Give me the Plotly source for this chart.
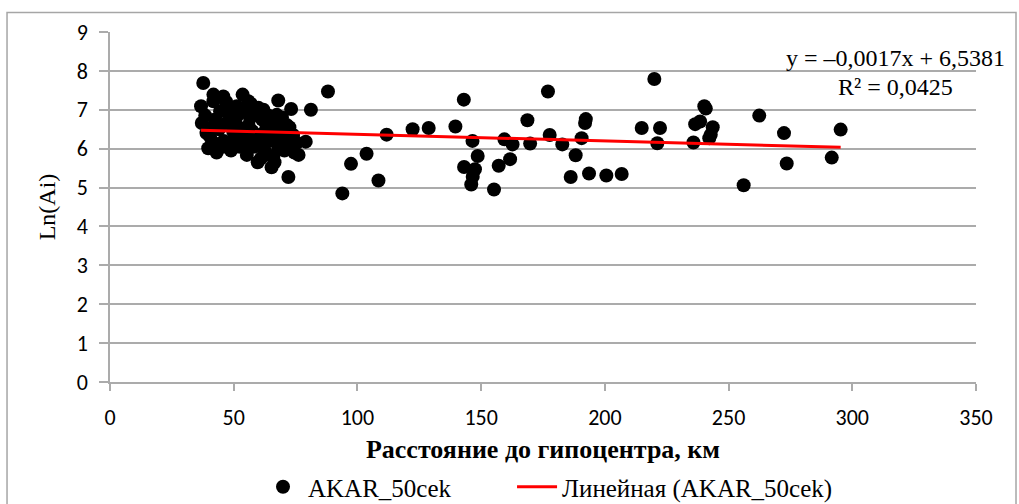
import plotly.graph_objects as go

# --- data: distance to hypocentre (km) and Ln(Ai) ---
distance_km = [
    37.7, 41.8, 45.8, 53.6, 55.9, 68.0, 73.2, 81.2, 36.8, 37.1, 40.4, 39.7, 43.1, 48.9,
    55.3, 59.7, 65.3, 72.1, 76.2, 79.1, 71.4, 67.4, 60.0, 51.2, 44.5, 41.8, 69.4, 66.0,
    40.4, 49.8, 55.3, 60.6, 63.3, 56.6, 47.2, 38.5, 42.5, 44.0, 46.0, 48.0, 50.0, 52.0,
    53.0, 54.5, 57.5, 58.5, 59.0, 61.5, 62.0, 62.5, 64.0, 64.5, 65.5, 67.0, 68.0, 68.5,
    70.0, 70.5, 71.0, 72.5, 73.5, 74.5, 66.5, 63.5, 61.0, 58.0, 56.0, 51.5, 45.5, 42.0,
    39.0, 47.0, 57.0, 62.0, 69.5, 74.0, 75.5, 43.5, 49.0, 52.5, 55.0,
    88.1, 93.9, 97.4, 103.7, 108.5, 111.8, 122.3, 128.8, 139.6, 143.0, 146.5, 148.6,
    143.1, 147.5, 146.6, 146.0, 155.2, 157.1, 159.4, 162.7, 161.7, 168.7, 169.8, 177.0,
    177.7, 182.8, 188.2, 186.2, 190.6, 192.3, 192.0, 193.6, 200.6, 206.8, 214.9, 220.0,
    222.3, 221.2, 235.8, 236.5, 238.5, 240.2, 240.8, 243.6, 242.8, 242.2, 262.4, 272.4,
    273.5, 256.1, 291.7, 295.3,
]
ln_ai = [
    7.69, 7.39, 7.34, 7.39, 7.22, 7.24, 7.02, 7.00, 7.09, 6.66, 6.31, 6.01, 5.90, 5.95,
    5.84, 5.65, 5.52, 5.27, 5.84, 6.18, 6.61, 6.87, 7.05, 7.09, 6.96, 7.22, 6.10, 5.80,
    6.53, 6.44, 6.23, 6.06, 6.57, 6.79, 6.66, 6.85, 6.75, 6.50, 6.20, 6.90, 6.70, 6.55,
    6.30, 6.95, 6.45, 6.95, 6.25, 6.75, 6.40, 5.95, 6.85, 6.20, 6.60, 6.35, 6.00, 6.70,
    6.45, 5.95, 6.25, 6.55, 6.05, 5.90, 5.65, 5.85, 5.75, 6.05, 6.60, 6.85, 6.05, 6.15,
    6.40, 7.20, 7.15, 7.00, 6.80, 6.35, 6.15, 6.60, 6.15, 6.05, 6.05,
    7.47, 4.85, 5.61, 5.87, 5.18, 6.36, 6.50, 6.53, 6.57, 7.26, 6.20, 5.81,
    5.53, 5.47, 5.28, 5.08, 4.95, 5.56, 6.24, 6.11, 5.73, 6.73, 6.13, 7.47,
    6.35, 6.11, 5.83, 5.27, 6.27, 6.76, 6.66, 5.36, 5.31, 5.35, 6.53, 7.79,
    6.53, 6.14, 6.16, 6.63, 6.70, 7.09, 7.03, 6.55, 6.36, 6.27, 6.85, 6.40,
    5.62, 5.06, 5.77, 6.49,
]

# linear trend (as printed on the chart)
trend_slope = -0.0017
trend_intercept = 6.5381
trend_x = [min(distance_km), max(distance_km)]
trend_y = [trend_slope * v + trend_intercept for v in trend_x]

x_ticks = [0, 50, 100, 150, 200, 250, 300, 350]
y_ticks = [0, 1, 2, 3, 4, 5, 6, 7, 8, 9]

series_name = "AKAR_50cek"
trend_name = "Линейная (AKAR_50cek)"
x_title = "Расстояние до гипоцентра, км"
y_title = "Ln(Ai)"
eq_line1 = "y = –0,0017x + 6,5381"
eq_line2 = "R² = 0,0425"

SANS = "Calibri, Carlito, Lato, sans-serif"
SERIF = "Liberation Serif, Times New Roman, serif"
GRID = "#ababab"

fig = go.Figure()
fig.add_trace(go.Scatter(
    x=distance_km, y=ln_ai, mode="markers", name=series_name, legend="legend",
    marker=dict(color="black", size=14, line=dict(width=0)),
))
fig.add_trace(go.Scatter(
    x=trend_x, y=trend_y, mode="lines", name=trend_name, legend="legend2",
    line=dict(color="#ff0000", width=3),
))


def legend_box(x_pos):
    return dict(
        orientation="h", xref="container", yref="container",
        x=x_pos, xanchor="left", y=0.0337, yanchor="middle",
        font=dict(family=SERIF, size=25, color="black"),
        bgcolor="rgba(0,0,0,0)", itemwidth=40,
    )


fig.update_layout(
    width=1019, height=504,
    margin=dict(l=110, r=43, t=32, b=122),
    paper_bgcolor="white", plot_bgcolor="white",
    font=dict(family=SERIF, color="black"),
    showlegend=True,
    legend=legend_box(0.2532),
    legend2=legend_box(0.5025),
    xaxis=dict(
        range=[0, 350], tickvals=x_ticks, ticktext=[str(v) for v in x_ticks],
        showgrid=False, zeroline=False, showline=True, linecolor=GRID, linewidth=1.5,
        ticks="outside", ticklen=7, tickcolor=GRID, tickwidth=1.5, automargin=False,
        tickfont=dict(family=SANS, size=22, color="black"), ticklabelstandoff=8,
        title=dict(text="<b>" + x_title + "</b>", font=dict(family=SERIF, size=26, color="black"),
                   standoff=31),
    ),
    yaxis=dict(
        range=[0, 9], tickvals=y_ticks, ticktext=[str(v) for v in y_ticks],
        showgrid=True, gridcolor=GRID, gridwidth=1.5, zeroline=False,
        showline=True, linecolor=GRID, linewidth=1.5, automargin=False,
        ticks="outside", ticklen=9, tickcolor=GRID, tickwidth=1.5,
        tickfont=dict(family=SANS, size=22, color="black"), ticklabelstandoff=7,
        title=dict(text=y_title, font=dict(family=SERIF, size=24, color="black"), standoff=14),
    ),
)

fig.add_annotation(xref="paper", yref="paper", x=0.9076, y=0.9255, text=eq_line1,
                   showarrow=False, xanchor="center", yanchor="middle",
                   font=dict(family=SERIF, size=24, color="black"))
fig.add_annotation(xref="paper", yref="paper", x=0.9076, y=0.8424, text=eq_line2,
                   showarrow=False, xanchor="center", yanchor="middle",
                   font=dict(family=SERIF, size=24, color="black"))

# chart-area border
fig.add_shape(type="rect", xref="paper", yref="paper",
              x0=-0.1189, x1=1.0462, y0=-0.368, y1=1.0559,
              line=dict(color="#a6a6a6", width=1.5), fillcolor="rgba(0,0,0,0)", layer="below")

fig.write_html("out.html")
